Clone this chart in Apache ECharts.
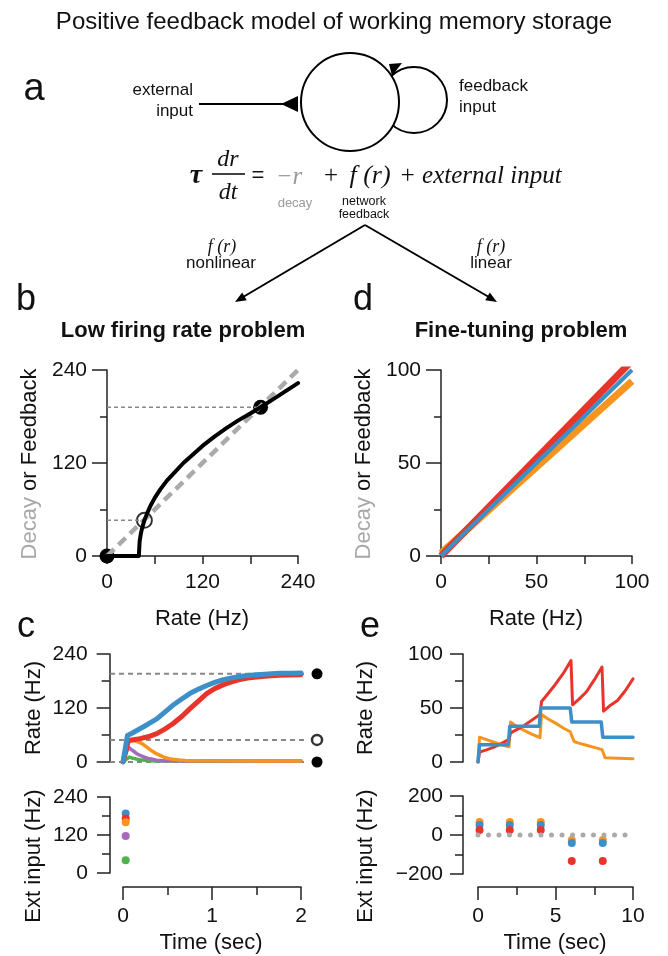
<!DOCTYPE html>
<html><head><meta charset="utf-8">
<script src="https://cdn.jsdelivr.net/npm/echarts@6/dist/echarts.min.js"></script>
<style>html,body{margin:0;padding:0;background:#fff}#main{width:668px;height:956px}</style>
</head><body><div id="main"></div>
<script>
// ---------------- DATA ----------------
// Panel b: nonlinear feedback f(r) vs rate
const bRate      = [0, 40, 41, 42.5, 44, 47, 50, 54.5, 60, 67, 75, 85, 96, 108, 120, 135, 150, 165, 180, 193, 210, 225, 240];
const bFeedback  = [0, 0, 18.7, 28.6, 35.6, 46, 54, 64.5, 75, 86, 97, 108, 120, 131, 142, 154, 165, 175, 184, 192, 203, 213, 223];
const bDecayRate = [0, 240];
const bDecay     = [0, 240];
const bStableRate = [0, 193];
const bStableVal  = [0, 192];
const bUnstableRate = [47];
const bUnstableVal  = [46];
const bRefLevels = [192, 46];
const bRefEnds   = [193, 47];

// Panel d: linear feedback lines (rate -> feedback)
const dRate   = [0, 100];
const dRed    = [0, 105];
const dBlue   = [0, 100];
const dOrange = [1.5, 94];

// Panel c: rate traces (time sec, rate Hz)
const cBlue   = [[0,0],[0.05,59],[0.1,64],[0.19,74],[0.28,84],[0.38,96],[0.47,111],[0.56,126],[0.66,140],[0.75,152],[0.85,162],[0.94,170],[1.03,177],[1.13,183],[1.22,187],[1.31,190],[1.4,192],[1.5,194],[1.63,195.5],[1.75,197],[1.88,197.5],[2.0,198]];
const cRed    = [[0,0],[0.06,47],[0.1,49],[0.19,52],[0.28,56],[0.38,63],[0.47,73],[0.56,85],[0.66,101],[0.75,118],[0.85,136],[0.94,152],[1.03,163],[1.13,172],[1.22,178],[1.31,183],[1.4,186.5],[1.5,189],[1.63,191],[1.75,192.5],[1.88,193.5],[2.0,194]];
const cOrange = [[0,0],[0.06,48],[0.1,48],[0.15,46],[0.19,43],[0.22,40],[0.26,34],[0.3,28],[0.34,23],[0.38,18],[0.43,13.5],[0.47,10],[0.52,7.5],[0.56,6],[0.63,4.5],[0.7,3.5],[0.8,3],[1.0,2.5],[1.5,2],[2.0,2]];
const cPurple = [[0,0],[0.06,33],[0.09,28],[0.12,24],[0.15,19],[0.19,15],[0.24,11],[0.28,8],[0.33,6],[0.38,4],[0.45,3],[0.55,2.5],[0.7,2],[2.0,2]];
const cGreen  = [[0,0],[0.07,11],[0.1,9],[0.13,7.5],[0.16,6],[0.19,5],[0.25,4],[0.3,3],[0.4,2.3],[0.55,2],[2.0,2]];
const cFixedLevels = [196, 49, 0];
const cLineStart = -0.146, cLineEnd = 2.07, cMarkerT = 2.18;
// Panel c: external input pulses
const cInputT = 0.03;
const cInputs = {blue:188, red:172, orange:160, purple:117, green:40};

// Panel e: rate traces
const eBlue   = [[0,0],[0.1,16],[1.95,16],[2.05,33],[3.95,33],[4.05,50],[5.95,50],[6.05,37],[7.95,37],[8.05,23],[10,23]];
const eRed    = [[0,0],[0.1,9.3],[0.5,11],[1,13.5],[1.5,17],[2.0,21],[2.1,27],[2.5,30],[3,34],[3.5,39],[4.0,44],[4.1,56],[4.5,63],[5,72],[5.5,82],[6.0,94],[6.1,53],[6.5,58],[7,65],[7.5,76],[8.0,88],[8.1,47],[8.5,52],[9,57],[9.5,66],[10,77]];
const eOrange = [[0,0],[0.1,23],[0.5,21],[1,18.5],[1.5,16],[2.0,14],[2.1,37],[2.5,33],[3,29],[3.5,25.5],[4.0,22.5],[4.1,44],[4.5,40],[5,36],[5.5,31.5],[5.95,28],[6.2,19],[6.5,17.5],[7,15.5],[7.5,13.5],[8.0,11.5],[8.2,4],[9,3.5],[10,3]];
// Panel e: external input pulses
const eInputT      = [0.1, 2.05, 4.05, 6.05, 8.05];
const eInputOrange = [67, 67, 67, -26, -26];
const eInputBlue   = [51, 51, 51, -41, -41];
const eInputRed    = [26, 26, 26, -133, -133];
const eZeroLine    = [[0,0],[9.5,0]];

// ---------------- STYLE ----------------
const SANS = '"Liberation Sans", Arial, Helvetica, sans-serif';
const SERIF = '"Liberation Serif", "Times New Roman", serif';
const AX = '#222';
const BLUE='#3d8fc8', RED='#e8352b', ORANGE='#f7941d', PURPLE='#a569bd', GREEN='#4fb34b';

function axis(o){
  return {
    type:'value', gridIndex:o.g, min:o.min, max:o.max, interval:o.iv,
    show: o.show !== false, offset:o.offset||0, position:o.pos,
    splitLine:{show:false},
    axisLine:{show:true, onZero:false, lineStyle:{color:AX, width:1.5}},
    axisTick:{show:true, length:o.tl||13, lineStyle:{color:AX, width:1.5}},
    minorTick:{show:true, splitNumber:o.ms||2, length:o.ml||8, lineStyle:{color:AX, width:1.5}},
    axisLabel:{show:true, color:'#111', fontSize:21, fontFamily:SANS, margin:o.margin||20,
      formatter: v => v < 0 ? '\u2212' + (-v) : String(v)}
  };
}
const zip = (a,b) => a.map((v,i)=>[v,b[i]]);
const line = (xi, data, color, width, extra) => Object.assign({
  type:'line', xAxisIndex:xi, yAxisIndex:xi, data, showSymbol:false, symbol:'none',
  lineStyle:{color, width, cap:'round', join:'round'}, animation:false, silent:true
}, extra||{});
const dots = (xi, data, color, size, extra) => Object.assign({
  type:'scatter', xAxisIndex:xi, yAxisIndex:xi, data, symbolSize:size,
  itemStyle:{color, opacity:1}, animation:false, silent:true
}, extra||{});

const series = [];
// b
series.push(line(0, zip(bDecayRate,bDecay), '#aaaaaa', 4.5, {lineStyle:{color:'#aaaaaa', width:4.5, type:[10,6]}}));
bRefLevels.forEach((lv,i)=> series.push(line(0, [[0,lv],[bRefEnds[i],lv]], '#888', 1.5, {lineStyle:{color:'#888', width:1.5, type:[4,3]}})));
series.push(line(0, zip(bRate,bFeedback), '#000', 4));
series.push(dots(0, zip(bStableRate,bStableVal), '#000', 15));
series.push(dots(0, zip(bUnstableRate,bUnstableVal), '#fff', 15, {itemStyle:{color:'#fff', borderColor:'#000', borderWidth:2}}));
// d
series.push(line(1, zip(dRate,dOrange), ORANGE, 7, {lineStyle:{color:ORANGE,width:7,cap:'butt'}}));
series.push(line(1, zip(dRate,dRed), RED, 7, {lineStyle:{color:RED,width:7,cap:'butt'}}));
series.push(line(1, zip(dRate,dBlue), BLUE, 4, {lineStyle:{color:BLUE,width:4,cap:'butt'}}));
// c rate
cFixedLevels.forEach(lv => series.push(line(2, [[cLineStart,lv],[cLineEnd,lv]], '#888', 2, {lineStyle:{color:'#888', width:2, type:[5,4]}})));
series.push(line(2, cGreen, GREEN, 3.5));
series.push(line(2, cPurple, PURPLE, 3.5));
series.push(line(2, cOrange, ORANGE, 3.5));
series.push(line(2, cRed, RED, 5));
series.push(line(2, cBlue, BLUE, 5));
series.push(dots(2, [[cMarkerT,cFixedLevels[0]],[cMarkerT,cFixedLevels[2]]], '#000', 11));
series.push(dots(2, [[cMarkerT,cFixedLevels[1]]], '#fff', 10, {itemStyle:{color:'#fff', borderColor:'#000', borderWidth:2.5}}));
// c ext input
series.push(dots(3, [[cInputT,cInputs.blue]], BLUE, 8));
series.push(dots(3, [[cInputT,cInputs.red]], RED, 8));
series.push(dots(3, [[cInputT,cInputs.orange]], ORANGE, 8));
series.push(dots(3, [[cInputT,cInputs.purple]], PURPLE, 8));
series.push(dots(3, [[cInputT,cInputs.green]], GREEN, 8));
// e rate
series.push(line(4, eOrange, ORANGE, 3));
series.push(line(4, eRed, RED, 3));
series.push(line(4, eBlue, BLUE, 3.5));
// e ext input
series.push(line(5, eZeroLine, '#aaa', 5, {lineStyle:{color:'#aaa', width:5, type:[0.001,10.5], cap:'round'}}));
series.push(dots(5, zip(eInputT,eInputOrange), ORANGE, 8));
series.push(dots(5, zip(eInputT,eInputBlue), BLUE, 8));
series.push(dots(5, zip(eInputT,eInputRed), RED, 8));

// ---------------- GRAPHIC (diagram + texts) ----------------
const G = [];
function fontStr(size,o){ o=o||{}; return (o.style||'normal')+' '+(o.weight||'normal')+' '+size+'px '+(o.family||SANS); }
function T(x,y,text,size,o){
  o=o||{};
  G.push({type:'text', x, y, rotation:o.rot||0, z:100, silent:true,
    style:{text, fill:o.fill||'#111', font:fontStr(size,o), textAlign:o.align||'center', textVerticalAlign:'middle', rich:o.rich}});
}
function L(x1,y1,x2,y2,w){ G.push({type:'line', z:90, silent:true, shape:{x1,y1,x2,y2}, style:{stroke:'#000', lineWidth:w||2}}); }
function arrowHead(x1,y1,x2,y2,len,half){
  const dx=x2-x1, dy=y2-y1, d=Math.hypot(dx,dy), ux=dx/d, uy=dy/d;
  const bx=x2-ux*len, by=y2-uy*len;
  G.push({type:'polygon', z:91, silent:true, shape:{points:[[x2,y2],[bx-uy*half,by+ux*half],[bx+uy*half,by-ux*half]]}, style:{fill:'#000'}});
}

// title
T(334, 22, 'Positive feedback model of working memory storage', 24);
// panel a diagram
T(34, 90, 'a', 38);
T(193, 90, 'external', 17, {align:'right'});
T(193, 111, 'input', 17, {align:'right'});
L(199, 104, 284, 104, 2.2);
G.push({type:'polygon', z:92, silent:true, shape:{points:[[281,104],[298,96],[298,112]]}, style:{fill:'#000'}});
G.push({type:'circle', z:80, silent:true, shape:{cx:414, cy:100, r:33}, style:{fill:'#fff', stroke:'#000', lineWidth:2}});
G.push({type:'circle', z:85, silent:true, shape:{cx:350, cy:102, r:49}, style:{fill:'#fff', stroke:'#000', lineWidth:2}});
G.push({type:'polygon', z:92, silent:true, shape:{points:[[389,64],[402,63],[392,76]]}, style:{fill:'#000'}});
T(459, 86, 'feedback', 17, {align:'left'});
T(459, 107, 'input', 17, {align:'left'});
// equation
T(196, 176, '\u03c4', 28, {family:SERIF, style:'italic', weight:'bold'});
T(228, 160, 'dr', 24, {family:SERIF, style:'italic'});
L(212, 174, 245, 174, 1.5);
T(228, 193, 'dt', 24, {family:SERIF, style:'italic'});
T(258, 176, '=', 22, {family:SANS});
T(289, 177, '\u2212r', 25, {family:SERIF, style:'italic', fill:'#9a9a9a'});
T(331, 176, '+', 25, {family:SERIF});
T(370, 176, 'f (r)', 26, {family:SERIF, style:'italic'});
T(399, 176, '+ external input', 25, {family:SERIF, style:'italic', align:'left'});
T(295, 203, 'decay', 13, {fill:'#9a9a9a'});
T(364, 202, 'network', 12.5);
T(364, 215, 'feedback', 12.5);
// branching arrows
L(365, 225, 238, 300, 2); arrowHead(365,225,235,302,11,4.5);
L(365, 225, 494, 300, 2); arrowHead(365,225,497,302,11,4.5);
T(222, 247, 'f (r)', 18, {family:SERIF, style:'italic'});
T(221, 263, 'nonlinear', 17);
T(491, 247, 'f (r)', 18, {family:SERIF, style:'italic'});
T(491, 263, 'linear', 17);
// panel letters & titles
T(26, 300, 'b', 36); T(363, 300, 'd', 36);
T(26, 627, 'c', 36); T(370, 627, 'e', 36);
T(183, 331, 'Low firing rate problem', 22, {weight:'bold'});
T(521, 331, 'Fine-tuning problem', 22, {weight:'bold'});
// axis names
const decayRich = {g:{fill:'#a8a8a8', font:fontStr(22)}, k:{fill:'#111', font:fontStr(22)}};
T(30, 464, '{g|Decay}{k| or Feedback}', 22, {rot:Math.PI/2, rich:decayRich});
T(364, 464, '{g|Decay}{k| or Feedback}', 22, {rot:Math.PI/2, rich:decayRich});
T(202, 619, 'Rate (Hz)', 22); T(536, 619, 'Rate (Hz)', 22);
T(34, 708, 'Rate (Hz)', 22, {rot:Math.PI/2});
T(34, 856, 'Ext input (Hz)', 22, {rot:Math.PI/2});
T(366, 708, 'Rate (Hz)', 22, {rot:Math.PI/2});
T(366, 856, 'Ext input (Hz)', 22, {rot:Math.PI/2});
T(211, 943, 'Time (sec)', 22); T(555, 943, 'Time (sec)', 22);

const option = {
  backgroundColor:'#fff', animation:false,
  grid:[
    {left:107, top:370, width:191, height:186},
    {left:441, top:370, width:191, height:186},
    {left:109.65, top:654, width:213.6, height:108},
    {left:123, top:797, width:178, height:76},
    {left:478, top:654, width:155, height:108},
    {left:478, top:796, width:155, height:78}
  ],
  xAxis:[
    axis({g:0, min:0, max:240, iv:120, tl:8, ml:8, margin:16, pos:'bottom'}),
    axis({g:1, min:0, max:100, iv:50, tl:8, ml:8, margin:16, pos:'bottom'}),
    axis({g:2, min:-0.15, max:2.25, iv:1, show:false}),
    axis({g:3, min:0, max:2, iv:1, tl:13, ml:8, margin:19, offset:14, pos:'bottom'}),
    axis({g:4, min:0, max:10, iv:5, show:false}),
    axis({g:5, min:0, max:10, iv:5, tl:13, ml:8, margin:19, offset:13, pos:'bottom'})
  ],
  yAxis:[
    axis({g:0, min:0, max:240, iv:120, tl:15, ml:7, margin:20, pos:'left'}),
    axis({g:1, min:0, max:100, iv:50, tl:15, ml:7, margin:20, pos:'left'}),
    axis({g:2, min:0, max:240, iv:120, tl:13, ml:8, margin:22, pos:'left'}),
    axis({g:3, min:0, max:240, iv:120, tl:13, ml:8, margin:22, offset:13, pos:'left'}),
    axis({g:4, min:0, max:100, iv:50, tl:13, ml:8, margin:20, offset:15, pos:'left'}),
    axis({g:5, min:-200, max:200, iv:200, tl:13, ml:8, margin:20, offset:15, pos:'left'})
  ],
  series,
  graphic:{elements:G}
};
const chart = echarts.init(document.getElementById('main'), null, {renderer:'canvas', width:668, height:956});
chart.setOption(option);
</script></body></html>
